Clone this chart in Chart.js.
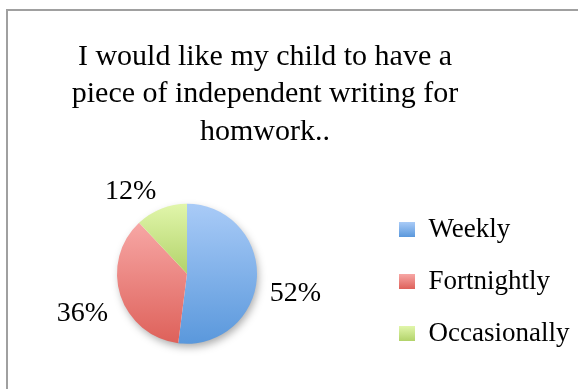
<!DOCTYPE html>
<html>
<head>
<meta charset="utf-8">
<script src="https://cdn.jsdelivr.net/npm/chart.js@4.4.1/dist/chart.umd.min.js"></script>
<style>
  html, body { margin: 0; padding: 0; background: #ffffff; }
  #c { display: block; }
</style>
</head>
<body>
<canvas id="c" width="578" height="389"></canvas>
<script>
// ---- data ----
const titleLines = ['I would like my child to have a', 'piece of independent writing for', 'homwork..'];
const categories = ['Weekly', 'Fortnightly', 'Occasionally'];
const percentages = [52, 36, 12];

// ---- styles ----
const gradientTops = ['#a9cbf7', '#f7a7a5', '#e1f6ab'];
const gradientBottoms = ['#5a98dc', '#de615a', '#b2d36a'];
const solidColors = ['#7fb1ea', '#ec8680', '#c8e38a'];
const FONT = "'Liberation Serif', 'Times New Roman', serif";
const TITLE_RIGHT_INSET = 48; // the original chart frame runs past the picture's right edge

function vGrad(ctx, y0, y1, i) {
  const g = ctx.createLinearGradient(0, y0, 0, y1);
  g.addColorStop(0, gradientTops[i]);
  g.addColorStop(1, gradientBottoms[i]);
  return g;
}

function angleIn(theta, s, e) {
  const TAU = Math.PI * 2;
  let t = theta;
  while (t < s) t += TAU;
  while (t > s + TAU) t -= TAU;
  return t <= e;
}

const framePlugin = {
  id: 'frame',
  afterLayout(chart) {
    // centre the title over the original (wider, cropped) frame
    if (chart.titleBlock) {
      chart.titleBlock.right = chart.width - TITLE_RIGHT_INSET;
    }
  },
  beforeDraw(chart) {
    const ctx = chart.ctx;
    ctx.save();
    ctx.strokeStyle = '#a0a0a0';
    ctx.lineWidth = 2;
    ctx.strokeRect(7, 10, 700, 500);
    ctx.restore();
    // legend box gradients
    const lg = chart.legend;
    if (lg && lg.legendItems && lg.legendHitBoxes) {
      const lo = lg.options.labels;
      const fs = lo.font.size;
      lg.legendItems.forEach((item, i) => {
        const hb = lg.legendHitBoxes[i];
        if (!hb) return;
        const top = hb.top + Math.max((fs - lo.boxHeight) / 2, 0);
        item.fillStyle = vGrad(ctx, top, top + lo.boxHeight, item.index);
      });
    }
  },
  beforeDatasetsDraw(chart) {
    const ctx = chart.ctx;
    const meta = chart.getDatasetMeta(0);
    meta.data.forEach((arc, i) => {
      const {x, y, startAngle, endAngle, outerRadius} = arc.getProps(['x', 'y', 'startAngle', 'endAngle', 'outerRadius'], true);
      const ys = [y, y + Math.sin(startAngle) * outerRadius, y + Math.sin(endAngle) * outerRadius];
      if (angleIn(-Math.PI / 2, startAngle, endAngle)) ys.push(y - outerRadius);
      if (angleIn(Math.PI / 2, startAngle, endAngle)) ys.push(y + outerRadius);
      const y0 = Math.min(...ys), y1 = Math.max(...ys);
      arc.options = Object.assign({}, arc.options, {backgroundColor: vGrad(ctx, y0, y1, i)});
    });
    const a0 = meta.data[0];
    if (a0) {
      const {x, y, outerRadius} = a0.getProps(['x', 'y', 'outerRadius'], true);
      ctx.save();
      ctx.shadowColor = 'rgba(0,0,0,0.35)';
      ctx.shadowBlur = 8;
      ctx.shadowOffsetX = 2;
      ctx.shadowOffsetY = 4;
      ctx.beginPath();
      ctx.arc(x, y, outerRadius - 1, 0, Math.PI * 2);
      ctx.fillStyle = '#ffffff';
      ctx.fill();
      ctx.restore();
    }
  },
  afterDatasetsDraw(chart) {
    const ctx = chart.ctx;
    const meta = chart.getDatasetMeta(0);
    const data = chart.data.datasets[0].data;
    const total = data.reduce((a, b) => a + b, 0);
    const size = 28;
    ctx.save();
    ctx.font = size + 'px ' + FONT;
    ctx.fillStyle = '#000000';
    ctx.textBaseline = 'alphabetic';
    meta.data.forEach((arc, i) => {
      const {x, y, startAngle, endAngle, outerRadius} = arc.getProps(['x', 'y', 'startAngle', 'endAngle', 'outerRadius'], true);
      const mid = (startAngle + endAngle) / 2;
      const dx = Math.cos(mid), dy = Math.sin(mid);
      const ax = x + dx * (outerRadius + 13);
      const ay = y + dy * (outerRadius + 13);
      ctx.textAlign = dx >= 0 ? 'left' : 'right';
      const by = dy >= 0 ? ay + 3 + 0.68 * size : ay + 2;
      ctx.fillText(Math.round(data[i] / total * 100) + '%', ax, by);
    });
    ctx.restore();
  }
};

new Chart(document.getElementById('c'), {
  type: 'pie',
  data: {
    labels: categories,
    datasets: [{
      data: percentages,
      backgroundColor: solidColors,
      borderWidth: 0,
      radius: 70,
      hoverOffset: 0
    }]
  },
  options: {
    responsive: false,
    animation: false,
    events: [],
    layout: { padding: { left: 0, right: 0, top: 0, bottom: 17 } },
    plugins: {
      title: {
        display: true,
        text: titleLines,
        color: '#000000',
        font: { family: FONT, size: 30, weight: 'normal', lineHeight: 1.25 },
        padding: { top: 38, bottom: 25 }
      },
      legend: {
        display: true,
        position: 'right',
        align: 'end',
        maxWidth: 204,
        labels: {
          boxWidth: 16,
          boxHeight: 15,
          padding: 25,
          color: '#000000',
          font: { family: FONT, size: 27 }
        }
      },
      tooltip: { enabled: false }
    }
  },
  plugins: [framePlugin]
});
</script>
</body>
</html>
